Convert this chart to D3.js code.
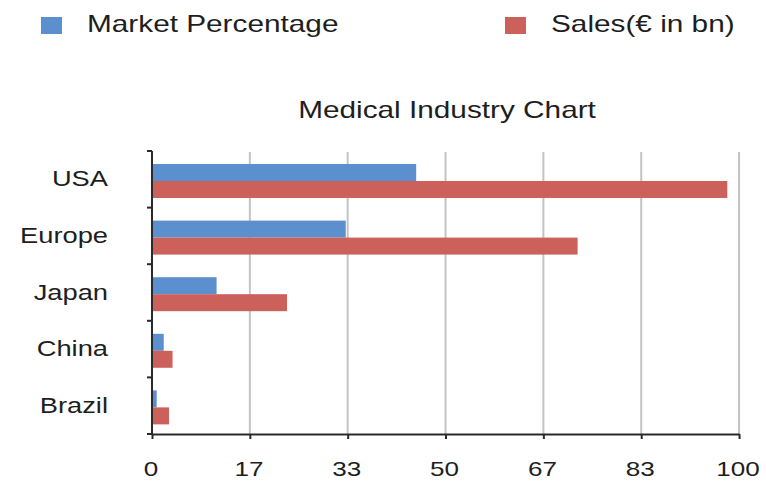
<!DOCTYPE html>
<html>
<head>
<meta charset="utf-8">
<script src="https://cdn.jsdelivr.net/npm/d3@7"></script>
<style>
	body { margin: 0; background: #fff; }
	text { font-family: "Liberation Sans", Arial, Helvetica, sans-serif; fill: #1e1e1e; }
	.grid line { stroke: #c4c4c4; stroke-width: 2; }
	.axis path, .axis line { stroke: #2a2a2a; stroke-width: 2; }
</style>
</head>
<body>
<script>
// chart data
const categories = ["USA", "Europe", "Japan", "China", "Brazil"];
const marketPercentage = [45, 33, 11, 2, 0.8];
const sales = [98, 72.5, 23, 3.5, 2.9];
const seriesNames = ["Market Percentage", "Sales(€ in bn)"];
const xTickValues = [0, 100 / 6, 200 / 6, 50, 400 / 6, 500 / 6, 100];

const colors = ["#5b8fcd", "#cc605a"];
const STRETCH = 1.24; // the reference text is drawn a bit wide

let width = 766, height = 481;
let margin = {top: 151, right: 24, bottom: 47, left: 152};
let innerW = width - margin.left - margin.right;
let innerH = height - margin.top - margin.bottom;

let svg = d3.select("body").append("svg")
	.attr("width", width)
	.attr("height", height);

let chart = svg.append("g")
	.attr("transform", "translate(" + margin.left + "," + margin.top + ")");

let xScale = d3.scaleLinear().domain([0, 100]).range([0, innerW * 0.995]);
let y0 = d3.scaleBand().domain(categories).range([0, innerH]);
let y1 = d3.scaleBand().domain([0, 1])
	.range([y0.bandwidth() * 0.23, y0.bandwidth() * 0.83]);

// widen text like in the picture
function stretch(sel) {
	sel.each(function() {
		let w = this.getComputedTextLength();
		d3.select(this)
			.attr("textLength", w * STRETCH)
			.attr("lengthAdjust", "spacingAndGlyphs");
	});
}

// vertical grid lines
chart.append("g")
	.attr("class", "grid")
	.selectAll("line")
	.data(xTickValues.slice(1))
	.enter().append("line")
		.attr("x1", function(d) { return xScale(d); })
		.attr("x2", function(d) { return xScale(d); })
		.attr("y1", 1)
		.attr("y2", innerH);

// bars
let rows = categories.map(function(c, i) {
	return {cat: c, values: [marketPercentage[i], sales[i]]};
});

let groups = chart.selectAll(".row")
		.data(rows)
	.enter().append("g")
		.attr("class", "row")
		.attr("transform", function(d) { return "translate(0," + y0(d.cat) + ")"; });

groups.selectAll("rect")
		.data(function(d) { return d.values; })
	.enter().append("rect")
		.attr("x", 0)
		.attr("y", function(d, i) { return y1(i); })
		.attr("width", function(d) { return xScale(d); })
		.attr("height", y1.bandwidth())
		.attr("fill", function(d, i) { return colors[i]; });

// x axis
let xAxis = chart.append("g")
	.attr("class", "axis")
	.attr("transform", "translate(0," + innerH + ")")
	.call(d3.axisBottom(xScale)
		.tickValues(xTickValues)
		.tickFormat(d3.format(".0f"))
		.tickSize(5)
		.tickSizeOuter(0)
		.tickPadding(22));
xAxis.selectAll("text")
	.attr("font-size", 21)
	.attr("dx", "-0.07em")
	.call(stretch);

// y axis: labels centred on bands, ticks on the band edges
let yAxis = chart.append("g")
	.attr("class", "axis")
	.call(d3.axisLeft(y0).tickSize(0).tickPadding(44));
yAxis.select(".domain").attr("d", "M0,0V" + innerH);
yAxis.selectAll("text")
	.attr("font-size", 22)
	.call(stretch);

yAxis.selectAll(".edge")
	.data(categories.map(function(c) { return y0(c); }).concat([innerH]))
	.enter().append("line")
		.attr("class", "edge")
		.attr("x1", -5)
		.attr("x2", 0)
		.attr("y1", function(d) { return d; })
		.attr("y2", function(d) { return d; });

// title
svg.append("text")
	.attr("x", 447)
	.attr("y", 118)
	.attr("text-anchor", "middle")
	.attr("font-size", 24)
	.text("Medical Industry Chart")
	.call(stretch);

// legend
let legendX = [41, 505];
let legend = svg.selectAll(".legend")
		.data(seriesNames)
	.enter().append("g")
		.attr("class", "legend")
		.attr("transform", function(d, i) { return "translate(" + legendX[i] + ",17)"; });

legend.append("rect")
	.attr("width", 21)
	.attr("height", 17)
	.attr("fill", function(d, i) { return colors[i]; });

legend.append("text")
	.attr("x", 46)
	.attr("y", 15)
	.attr("font-size", 24)
	.text(function(d) { return d; })
	.call(stretch);
</script>
</body>
</html>
